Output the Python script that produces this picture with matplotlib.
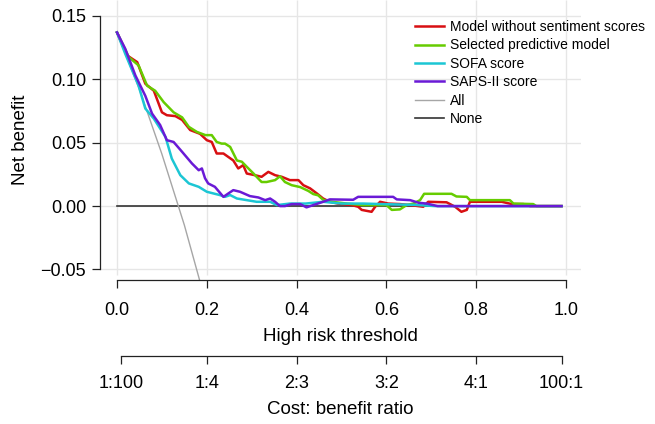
"""
Decision curve: net benefit vs high risk threshold, with cost:benefit ratio axis.
Saves out.png (655x424).
"""

import matplotlib.pyplot as plt
import matplotlib as mpl

mpl.rcParams["font.family"] = ["Liberation Sans", "DejaVu Sans"]

# ---- data ----
red_t = [0, 0.022, 0.045, 0.063, 0.082, 0.100, 0.111, 0.130, 0.145, 0.163,
         0.185, 0.200, 0.211, 0.222, 0.237, 0.259, 0.270, 0.281, 0.289, 0.307,
         0.322, 0.337, 0.352, 0.367, 0.385, 0.404, 0.415, 0.430, 0.445, 0.459,
         0.474, 0.492, 0.523, 0.537, 0.545, 0.567, 0.575, 0.586, 0.604, 0.630,
         0.653, 0.682, 0.693, 0.734, 0.753, 0.767, 0.779, 0.786, 0.857, 0.879,
         0.905, 0.920, 0.990]
red_nb = [0.137, 0.119, 0.1136, 0.0966, 0.091, 0.074, 0.0717, 0.071, 0.068, 0.060,
          0.057, 0.052, 0.0506, 0.0415, 0.0415, 0.036, 0.0297, 0.0323, 0.0257, 0.0244,
          0.0231, 0.027, 0.0244, 0.0231, 0.0205, 0.0205, 0.0165, 0.014, 0.010, 0.006,
          0.0034, 0.002, 0.0008, -0.0005, -0.003, -0.0045, -0.0005, 0.0034, 0.002, 0.0016,
          0.0008, -0.0005, 0.0034, 0.0030, -0.0005, -0.0045, -0.003, 0.0034, 0.0034, 0.0016,
          0.0016, 0.0, 0.0]

green_t = [0, 0.026, 0.048, 0.067, 0.085, 0.104, 0.126, 0.145, 0.160, 0.178,
           0.197, 0.211, 0.222, 0.233, 0.2405, 0.252, 0.267, 0.278, 0.289, 0.304,
           0.322, 0.333, 0.352, 0.363, 0.374, 0.389, 0.408, 0.426, 0.437, 0.448,
           0.459, 0.474, 0.512, 0.548, 0.600, 0.612, 0.630, 0.645, 0.660, 0.675,
           0.684, 0.745, 0.756, 0.779, 0.786, 0.875, 0.883, 0.927, 0.934, 0.990]
green_nb = [0.137, 0.1176, 0.111, 0.095, 0.091, 0.082, 0.074, 0.070, 0.0625, 0.0585,
            0.056, 0.056, 0.0506, 0.0493, 0.0493, 0.0467, 0.036, 0.035, 0.031, 0.0257,
            0.019, 0.019, 0.0205, 0.0235, 0.019, 0.0165, 0.0150, 0.0120, 0.0095, 0.0085,
            0.0050, 0.0036, 0.002, 0.0008, 0.0008, -0.003, -0.0026, 0.0008, 0.002, 0.0047,
            0.0097, 0.0097, 0.0076, 0.0073, 0.0047, 0.0047, 0.0020, 0.0016, 0.0, 0.0]

sofa_t = [0, 0.0185, 0.048, 0.063, 0.082, 0.108, 0.122, 0.141, 0.160, 0.182,
          0.200, 0.2145, 0.229, 0.2405, 0.252, 0.267, 0.289, 0.311, 0.341, 0.356,
          0.385, 0.420, 0.459, 0.500, 0.548, 0.600, 0.660, 0.710, 0.990]
sofa_nb = [0.137, 0.120, 0.095, 0.077, 0.069, 0.0546, 0.0375, 0.0244, 0.0179, 0.0152,
           0.0113, 0.010, 0.0087, 0.0073, 0.0087, 0.006, 0.0047, 0.0034, 0.0034, 0.0008,
           0.002, 0.002, 0.0034, 0.002, 0.002, 0.0015, 0.001, 0.0, 0.0]

saps_t = [0, 0.0185, 0.041, 0.063, 0.078, 0.096, 0.111, 0.126, 0.145, 0.167,
          0.182, 0.189, 0.196, 0.203, 0.218, 0.237, 0.248, 0.259, 0.274, 0.296,
          0.315, 0.330, 0.341, 0.352, 0.363, 0.374, 0.389, 0.408, 0.422, 0.437,
          0.459, 0.474, 0.526, 0.537, 0.615, 0.623, 0.653, 0.672, 0.690, 0.714, 0.990]
saps_nb = [0.137, 0.124, 0.103, 0.087, 0.073, 0.064, 0.052, 0.0506, 0.0428, 0.0336,
           0.0283, 0.0297, 0.022, 0.0179, 0.0152, 0.0073, 0.010, 0.0126, 0.0113, 0.0079,
           0.0068, 0.0047, 0.006, 0.0034, 0.0, 0.0, 0.0016, 0.0016, -0.001, 0.0008,
           0.0034, 0.0053, 0.0050, 0.0073, 0.0073, 0.0053, 0.0047, 0.0026, 0.002, 0.0, 0.0]

all_t = [0, 0.05, 0.10, 0.15, 0.20]
all_nb = [0.137, 0.092, 0.041, -0.015, -0.079]

none_t = [0, 0.99]
none_nb = [0, 0]

x_ticks = [0.0, 0.2, 0.4, 0.6, 0.8, 1.0]
y_ticks = [-0.05, 0.00, 0.05, 0.10, 0.15]
ratio_labels = ["1:100", "1:4", "2:3", "3:2", "4:1", "100:1"]
ratio_cost = [1, 1, 2, 3, 4, 100]
ratio_benefit = [100, 4, 3, 2, 1, 1]

W, H = 655, 424
fig = plt.figure(figsize=(W / 100, H / 100), dpi=100)
ax = fig.add_axes([100 / W, (H - 280) / H, 481 / W, 280 / H])
ax.set_xlim(-0.0379, 1.0334)
ax.set_ylim(-0.0583, 0.1626)

# grid (stops just below -0.05 like the original)
for x in x_ticks:
    ax.plot([x, x], [-0.0545, 0.1626], color="#e6e6e6", lw=1.0, zorder=0,
            solid_capstyle="butt")
for y in y_ticks:
    ax.axhline(y, color="#e6e6e6", lw=1.0, zorder=0)

ax.plot(none_t, none_nb, color="#333333", lw=1.2, label="None", zorder=1)
ax.plot(all_t, all_nb, color="#a6a6a6", lw=1.0, label="All", zorder=1)
ax.plot(red_t, red_nb, color="#d80f12", lw=1.8, zorder=2,
        label="Model without sentiment scores")
ax.plot(green_t, green_nb, color="#66cc00", lw=1.8, zorder=3,
        label="Selected predictive model")
ax.plot(sofa_t, sofa_nb, color="#1cc6d4", lw=1.8, zorder=4, label="SOFA score")
ax.plot(saps_t, saps_nb, color="#6a1ad6", lw=1.8, zorder=5, label="SAPS-II score")

for s in ["top", "right"]:
    ax.spines[s].set_visible(False)
ax.spines["left"].set_bounds(-0.05, 0.15)
ax.spines["bottom"].set_bounds(0, 1)
for s in ["left", "bottom"]:
    ax.spines[s].set_color("#222222")
    ax.spines[s].set_linewidth(0.9)

ax.set_xticks(x_ticks)
ax.set_xticklabels([f"{v:.1f}" for v in x_ticks])
ax.set_yticks(y_ticks)
ax.set_yticklabels([f"{v:.2f}".replace("-", "\u2212") for v in y_ticks])
ax.tick_params(axis="both", labelsize=13, length=6, width=0.9, color="#222222")
ax.tick_params(axis="x", pad=10)
ax.tick_params(axis="y", pad=4)
ax.set_xlabel("High risk threshold", fontsize=13.5, labelpad=6)
ax.set_ylabel("Net benefit", fontsize=13.5, labelpad=8)

handles, labels = ax.get_legend_handles_labels()
order = [2, 3, 4, 5, 1, 0]
ax.legend([handles[i] for i in order], [labels[i] for i in order],
          loc="upper left", bbox_to_anchor=(415 / W, 1 - 20 / H),
          bbox_transform=fig.transFigure, frameon=False, fontsize=10,
          borderpad=0, borderaxespad=0, handlelength=2.1, handletextpad=0.4,
          labelspacing=0.32)

# cost:benefit ratio axis
ax2 = fig.add_axes([100 / W, (H - 356) / H, 481 / W, 0.0001])
ax2.set_xlim(ax.get_xlim())
ax2.set_yticks([])
ax2.patch.set_visible(False)
for s in ["top", "right", "left"]:
    ax2.spines[s].set_visible(False)
ratio_pos = [c / (c + b) for c, b in zip(ratio_cost, ratio_benefit)]
ax2.spines["bottom"].set_bounds(ratio_pos[0], ratio_pos[-1])
ax2.spines["bottom"].set_color("#222222")
ax2.spines["bottom"].set_linewidth(0.9)
ax2.set_xticks(ratio_pos)
ax2.set_xticklabels(ratio_labels)
ax2.tick_params(axis="x", labelsize=13, length=6, width=0.9, color="#222222", pad=8)
ax2.set_xlabel("Cost: benefit ratio", fontsize=13.5, labelpad=6)

fig.savefig("out.png", dpi=100)
